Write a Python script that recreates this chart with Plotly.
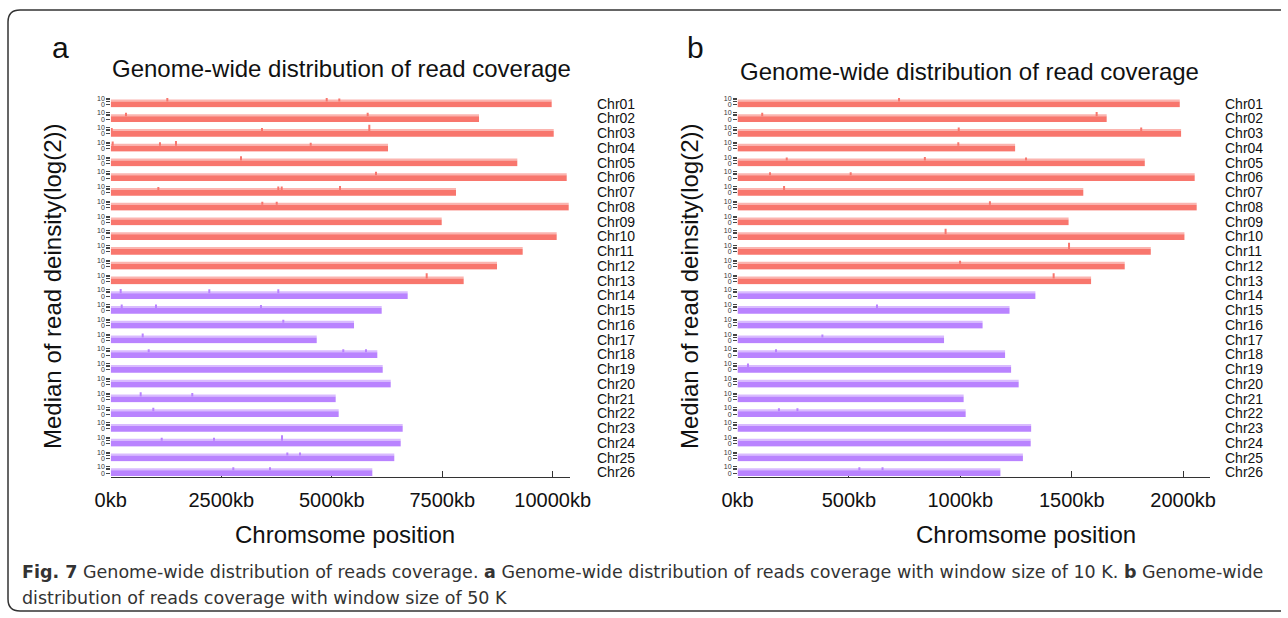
import plotly.graph_objects as go

# ---------------- data ----------------
chromosomes = ["Chr01", "Chr02", "Chr03", "Chr04", "Chr05", "Chr06", "Chr07", "Chr08", "Chr09",
               "Chr10", "Chr11", "Chr12", "Chr13", "Chr14", "Chr15", "Chr16", "Chr17", "Chr18",
               "Chr19", "Chr20", "Chr21", "Chr22", "Chr23", "Chr24", "Chr25", "Chr26"]
chr_group = ["A"] * 13 + ["B"] * 13

# chromosome lengths (kb) as plotted in panel a (10 K windows) and panel b (50 K windows)
length_a_kb = [9977, 8333, 10023, 6274, 9199, 10317, 7812, 10362, 7489, 10090, 9321, 8740, 7986,
               6719, 6131, 5505, 4661, 6032, 6154, 6335, 5090, 5158, 6606, 6561, 6416, 5919]
length_b_kb = [1985, 1657, 1991, 1246, 1828, 2052, 1552, 2061, 1486, 2006, 1855, 1738, 1587,
               1337, 1221, 1100, 927, 1201, 1228, 1262, 1015, 1024, 1318, 1316, 1281, 1180]

# typical median log2 read density of each chromosome
median_a = [4.5, 4.5, 4.5, 4.5, 4.5, 4.5, 4.5, 4.5, 4.5, 4.5, 4.5, 4.5, 4.5,
            4.5, 4.5, 4.5, 4.5, 4.5, 4.5, 4.5, 4.5, 4.5, 4.5, 4.5, 4.5, 4.5]
median_b = [4.5, 4.5, 4.5, 4.5, 4.5, 4.5, 4.5, 4.5, 4.5, 4.5, 4.5, 4.5, 4.5,
            4.5, 4.5, 4.5, 4.5, 4.5, 4.5, 4.5, 4.5, 4.5, 4.5, 4.5, 4.5, 4.5]

# visible peaks (chromosome index, position kb, log2 value)
spike_a_chr = [1, 1, 1, 2, 2, 3, 3, 3, 4, 4, 4, 4, 5, 6, 7, 7, 7, 7, 8, 8, 13,
               14, 14, 14, 15, 15, 15, 16, 17, 18, 18, 18, 21, 21, 22, 24, 24, 24, 25, 25, 26, 26]
spike_a_kb = [1281, 4887, 5172, 346, 5814, 23, 3423, 5851, 45, 1115, 1477, 4525, 2948, 6002,
              1078, 3792, 3869, 5188, 3430, 3756, 7149,
              226, 2231, 3792, 249, 1025, 3400, 3905, 724, 860, 5262, 5776, 678, 1846, 964,
              1154, 2337, 3876, 3996, 4283, 2774, 3604]
spike_a_val = [10, 10, 9.5, 10, 10, 9.5, 9.5, 14.5, 11.5, 10, 12, 9.5, 11.5, 10, 9.5, 10, 10, 11, 9.5, 9.5, 13,
               11.5, 11, 11, 10, 10, 9.5, 9.5, 11, 9.5, 9.5, 9.5, 11.5, 10, 10, 9.5, 9.5, 13.5, 9.5, 9.5, 9.5, 9.5]

spike_b_chr = [1, 2, 2, 3, 3, 4, 5, 5, 5, 6, 6, 7, 8, 10, 11, 12, 13, 15, 17, 18, 19, 22, 22, 26, 26]
spike_b_kb = [725, 111, 1612, 993, 1812, 991, 221, 841, 1295, 146, 508, 209, 1133, 934, 1488, 999,
              1419, 626, 381, 173, 47, 186, 269, 547, 651]
spike_b_val = [10, 10, 11.5, 10, 10, 10, 9.5, 10, 9.5, 9.5, 9.5, 11, 10, 13.5, 14.5, 9.5, 13, 10, 9.5, 9.5, 10,
               9.5, 9.5, 9.5, 9.5]

x_ticks_a = [0, 2500, 5000, 7500, 10000]
x_ticklabels_a = ["0kb", "2500kb", "5000kb", "7500kb", "10000kb"]
x_ticks_b = [0, 500, 1000, 1500, 2000]
x_ticklabels_b = ["0kb", "500kb", "1000kb", "1500kb", "2000kb"]

# ---------------- styling / layout constants ----------------
W, H = 1288, 618
COLORS = {"A": "#F8766D", "B": "#B983FF"}
FONT = "Liberation Sans, Arial, Helvetica, sans-serif"
ROW0_PX = 104.3        # pixel of zero level of first row
PITCH_PX = 14.75       # vertical distance between rows
PX_PER_UNIT = 0.62
Y_LOW = -5.0
Y_HIGH = Y_LOW + PITCH_PX / PX_PER_UNIT
BAR_FLOOR = -4.6
FUZZ = 3.4
AXIS_PX = 477.0


def px_x(p):
    return p / W


def px_y(p):
    return 1 - p / H


panels = [
    dict(lengths=length_a_kb, med=median_a, sc=spike_a_chr, sk=spike_a_kb, sv=spike_a_val,
         x0=110.7, x1=570.0, pxkb=0.0442, ticks=x_ticks_a, labels=x_ticklabels_a,
         xname="xaxis", xref="x", label_px=595),
    dict(lengths=length_b_kb, med=median_b, sc=spike_b_chr, sk=spike_b_kb, sv=spike_b_val,
         x0=737.5, x1=1210.0, pxkb=0.2228, ticks=x_ticks_b, labels=x_ticklabels_b,
         xname="xaxis2", xref="x2", label_px=1223),
]

fig = go.Figure()
layout = {}
annotations = []

for p, cfg in enumerate(panels):
    layout[cfg["xname"]] = dict(
        domain=[px_x(cfg["x0"]), px_x(cfg["x1"])],
        range=[0, (cfg["x1"] - cfg["x0"]) / cfg["pxkb"]],
        anchor="free", position=px_y(AXIS_PX), automargin=False,
        tickvals=cfg["ticks"], ticktext=cfg["labels"],
        ticks="inside", ticklen=6, tickwidth=1, tickcolor="#333",
        showline=True, linecolor="#333", linewidth=1.2,
        showgrid=False, zeroline=False,
        tickfont=dict(family=FONT, size=20, color="#111"),
        ticklabelstandoff=5, fixedrange=True,
    )
    for i, name in enumerate(chromosomes):
        idx = p * 26 + i + 1
        yname = "yaxis" if idx == 1 else f"yaxis{idx}"
        yref = "y" if idx == 1 else f"y{idx}"
        zero_px = ROW0_PX + i * PITCH_PX
        bottom_px = zero_px - Y_LOW * PX_PER_UNIT
        top_px = bottom_px - PITCH_PX
        layout[yname] = dict(
            domain=[px_y(bottom_px), px_y(top_px)], range=[Y_LOW, Y_HIGH],
            anchor=cfg["xref"], automargin=False, tickvals=[0, 10], ticktext=["0", "10"],
            ticks="outside", ticklen=3.5, tickwidth=0.9, tickcolor="#444",
            minor=dict(tickvals=[5, 7.5], ticks="outside", ticklen=3.5, tickwidth=0.9, tickcolor="#444"),
            tickfont=dict(family=FONT, size=7, color="#333"),
            showgrid=False, zeroline=False, showline=False, fixedrange=True,
        )
        color = COLORS[chr_group[i]]
        L = cfg["lengths"][i]
        m = cfg["med"][i]
        fig.add_trace(go.Bar(orientation="h", x=[L], base=[0], y=[(BAR_FLOOR + m) / 2],
                             width=[m - BAR_FLOOR], marker=dict(color=color, line=dict(width=0)),
                             xaxis=cfg["xref"], yaxis=yref, showlegend=False, hoverinfo="skip"))
        fig.add_trace(go.Bar(orientation="h", x=[L], base=[0], y=[m + FUZZ / 2],
                             width=[FUZZ], marker=dict(color=color, opacity=0.55, line=dict(width=0)),
                             xaxis=cfg["xref"], yaxis=yref, showlegend=False, hoverinfo="skip"))
        xs, ys = [], []
        for c, k, v in zip(cfg["sc"], cfg["sk"], cfg["sv"]):
            if c == i + 1:
                xs += [k, k, None]
                ys += [m, v, None]
        if xs:
            fig.add_trace(go.Scatter(x=xs, y=ys, mode="lines", line=dict(color=color, width=2),
                                     xaxis=cfg["xref"], yaxis=yref, showlegend=False, hoverinfo="skip"))
        annotations.append(dict(text=name, xref="paper", yref=yref, x=px_x(cfg["label_px"]), y=1.0,
                                xanchor="left", yanchor="middle", showarrow=False,
                                font=dict(family=FONT, size=14, color="#111")))


def text_ann(text, x, y, size, angle=0, anchor="center", family=FONT, color="#111"):
    return dict(text=text, xref="paper", yref="paper", x=px_x(x), y=px_y(y), xanchor=anchor,
                yanchor="middle", showarrow=False, textangle=angle,
                font=dict(family=family, size=size, color=color))


annotations += [
    text_ann("a", 60, 47, 30),
    text_ann("b", 695, 48, 30),
    text_ann("Genome-wide distribution of read coverage", 341, 69, 24),
    text_ann("Genome-wide distribution of read coverage", 970, 71, 24),
    text_ann("Chromsome position", 345, 534, 24),
    text_ann("Chromsome position", 1026, 534, 24),
    text_ann("Median of read deinsity(log(2))", 53, 286, 24, angle=-90),
    text_ann("Median of read deinsity(log(2))", 690, 286, 24, angle=-90),
]
CAP_FONT = "DejaVu Sans, Noto Sans, sans-serif"
annotations += [
    text_ann("<b>Fig. 7</b> Genome-wide distribution of reads coverage. <b>a</b> Genome-wide distribution of reads "
             "coverage with window size of 10 K. <b>b</b> Genome-wide", 20, 572, 17.5, anchor="left",
             family=CAP_FONT, color="#333"),
    text_ann("distribution of reads coverage with window size of 50 K", 20, 598, 17.5, anchor="left",
             family=CAP_FONT, color="#333"),
]

# rounded frame around the figure
fx0, fy0, fx1, fy1, r = 8, 10, 1281, 611, 12
path_pts = (f"M {px_x(fx0 + r)},{px_y(fy0)} L {px_x(fx1)},{px_y(fy0)} "
            f"M {px_x(fx0)},{px_y(fy1 - r)} L {px_x(fx0)},{px_y(fy0 + r)} "
            f"Q {px_x(fx0)},{px_y(fy0)} {px_x(fx0 + r)},{px_y(fy0)} "
            f"M {px_x(fx0)},{px_y(fy1 - r)} Q {px_x(fx0)},{px_y(fy1)} {px_x(fx0 + r)},{px_y(fy1)} "
            f"L {px_x(fx1)},{px_y(fy1)}")

fig.update_layout(
    width=W, height=H, margin=dict(l=0, r=0, t=0, b=0, autoexpand=False),
    paper_bgcolor="white", plot_bgcolor="rgba(0,0,0,0)",
    barmode="overlay", showlegend=False,
    annotations=annotations,
    shapes=[dict(type="path", xref="paper", yref="paper", path=path_pts,
                 line=dict(color="#333", width=1.5))],
    **layout,
)

fig.write_html("out.html")
